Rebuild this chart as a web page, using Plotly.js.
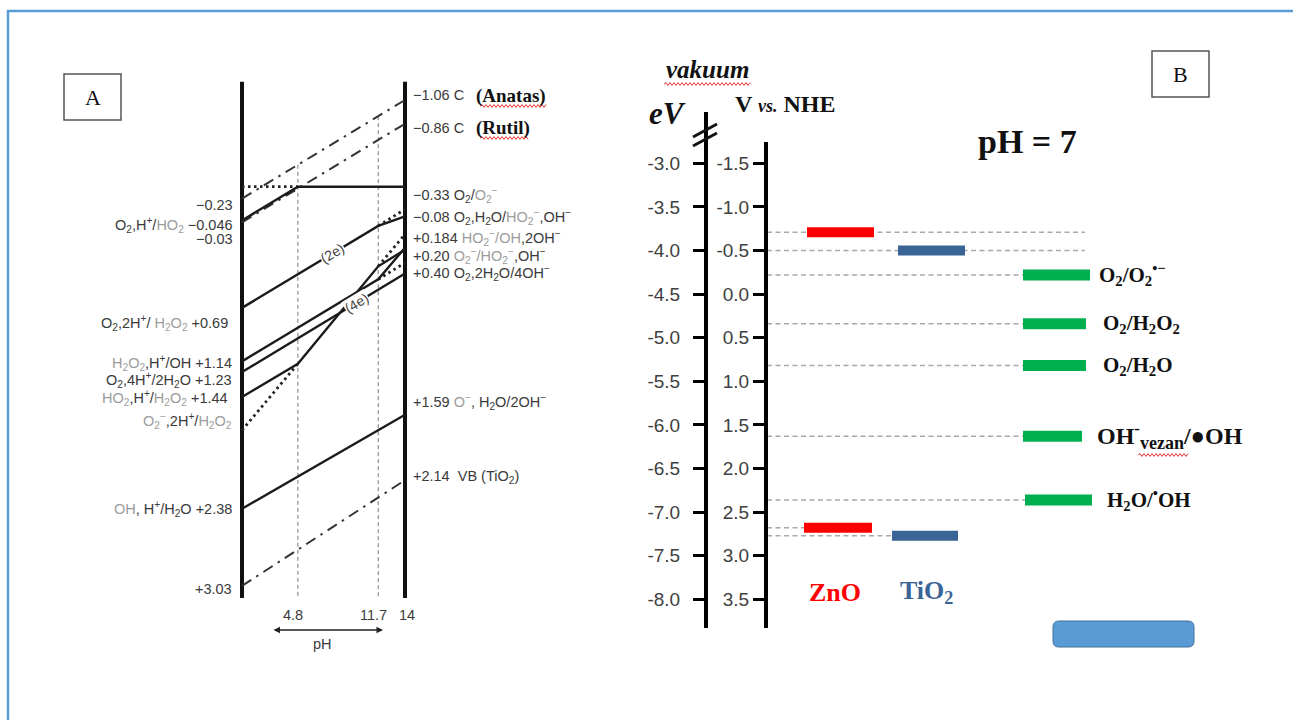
<!DOCTYPE html>
<html><head><meta charset="utf-8">
<script src="https://cdn.plot.ly/plotly-3.0.1.min.js"></script>
<style>html,body{margin:0;padding:0;background:#fff}#chart{width:1293px;height:720px}</style>
</head><body><div id="chart"></div>
<script>
const W = 1293, H = 720;
const PX = x => x / W, PY = y => 1 - y / H;

// ================= DATA =================
// Panel A: redox potentials (V vs NHE) against pH
const phAnatas = [0, 14],          eAnatas = [-0.23, -1.06];      // CB anatase (dash-dot)
const phRutil = [0, 14],           eRutil = [-0.03, -0.86];       // CB rutile (dash-dot)
const phVB = [0, 14],              eVB = [3.03, 2.14];            // VB TiO2 (dash-dot)
const phSuperox = [0, 4.8, 14],    eSuperox = [-0.046, -0.33, -0.33];
const phSuperoxDot = [0, 4.8],     eSuperoxDot = [-0.33, -0.33];
const ph2e = [0, 11.7, 14],        e2e = [0.69, 0.0, -0.08];
const ph2eDot = [11.7, 14],        e2eDot = [0.0, -0.14];
const phH2O2 = [0, 11.7, 14],      eH2O2 = [1.14, 0.45, 0.184];
const phH2O2Dot = [11.7, 14],      eH2O2Dot = [0.45, 0.31];
const ph4e = [0, 14],              e4e = [1.23, 0.40];
const phHO2 = [0, 4.8, 11.7, 14],  eHO2 = [1.44, 1.16, 0.34, 0.20];
const phHO2Dot = [0, 4.8],         eHO2Dot = [1.72, 1.16];
const phHO2Dot2 = [11.7, 14],      eHO2Dot2 = [0.34, 0.07];
const phOH = [0, 14],              eOH = [2.38, 1.59];
const pHmarks = [4.8, 11.7];
const pHtickText = ['4.8', '11.7', '14'];
const pHtickVals = [4.8, 11.7, 14];

const G = s => `<span style="color:#9c9c9c">${s}</span>`;
const leftLabels = [
  '−0.23',
  'O<sub>2</sub>,H<sup>+</sup>/' + G('HO<sub>2</sub>') + ' −0.046',
  '−0.03',
  'O<sub>2</sub>,2H<sup>+</sup>/ ' + G('H<sub>2</sub>O<sub>2</sub>') + ' +0.69',
  G('H<sub>2</sub>O<sub>2</sub>') + ',H<sup>+</sup>/OH +1.14',
  'O<sub>2</sub>,4H<sup>+</sup>/2H<sub>2</sub>O +1.23',
  G('HO<sub>2</sub>') + ',H<sup>+</sup>/' + G('H<sub>2</sub>O<sub>2</sub>') + ' +1.44',
  G('O<sub>2</sub><sup>−</sup>') + ',2H<sup>+</sup>/' + G('H<sub>2</sub>O<sub>2</sub>'),
  G('OH') + ', H<sup>+</sup>/H<sub>2</sub>O +2.38',
  '+3.03'
];
const rightLabels = [
  '−1.06 C',
  '−0.86 C',
  '−0.33 O<sub>2</sub>/' + G('O<sub>2</sub><sup>−</sup>'),
  '−0.08 O<sub>2</sub>,H<sub>2</sub>O/' + G('HO<sub>2</sub><sup>−</sup>') + ',OH<sup>−</sup>',
  '+0.184 ' + G('HO<sub>2</sub><sup>−</sup>/OH') + ',2OH<sup>−</sup>',
  '+0.20 ' + G('O<sub>2</sub><sup>−</sup>/HO<sub>2</sub><sup>−</sup>') + ',OH<sup>−</sup>',
  '+0.40 O<sub>2</sub>,2H<sub>2</sub>O/4OH<sup>−</sup>',
  '+1.59 ' + G('O<sup>−</sup>') + ', H<sub>2</sub>O/2OH<sup>−</sup>',
  '+2.14  VB (TiO<sub>2</sub>)'
];
const phaseLabels = ['(Anatas)', '(Rutil)'];

// Panel B: band edges and redox levels at pH 7 (V vs NHE)
const semiNames = ['ZnO', 'TiO<sub>2</sub>'];
const semiCB = [-0.71, -0.50];
const semiVB = [2.68, 2.77];
const redoxNames = ['O<sub>2</sub>/O<sub>2</sub><sup>•−</sup>', 'O<sub>2</sub>/H<sub>2</sub>O<sub>2</sub>', 'O<sub>2</sub>/H<sub>2</sub>O',
  'OH<sup>-</sup><sub><span style="font-size:18px">vezan</span></sub>/●OH', 'H<sub>2</sub>O/<sup>•</sup>OH'];
const redoxV = [-0.22, 0.34, 0.82, 1.63, 2.36];
const nheTicks = [-1.5, -1.0, -0.5, 0.0, 0.5, 1.0, 1.5, 2.0, 2.5, 3.0, 3.5];
const nheTickText = ['-1.5', '-1.0', '-0.5', '0.0', '0.5', '1.0', '1.5', '2.0', '2.5', '3.0', '3.5'];
const evTicks = [-3.0, -3.5, -4.0, -4.5, -5.0, -5.5, -6.0, -6.5, -7.0, -7.5, -8.0];
const evTickText = ['-3.0', '-3.5', '-4.0', '-4.5', '-5.0', '-5.5', '-6.0', '-6.5', '-7.0', '-7.5', '-8.0'];

// ================= LAYOUT CONSTANTS =================
const A_PH0 = 242, A_PH14 = 405;              // px of pH 0 / 14
const A_PXPH = (A_PH14 - A_PH0) / 14;
const A_Y0 = 100, A_PXV = 118.8;              // px of -1.06 V, px per V
const A_TOP_V = -1.214, A_BOT_V = 3.132;      // extent of the schematic axes
const aYrange = [-1.06 + (H - A_Y0) / A_PXV, -1.06 - A_Y0 / A_PXV];
const leftLabelPos = [[235,205],[235,225],[235,239],[230,323],[234,363],[234,380],[230,398],[234,421],[234,509],[234,589]];
const rightLabelPos = [[411,95],[411,128],[411,195],[411,217],[411,238],[411,256],[411,273],[411,402],[411,477]];
const phaseLabelPos = [[474,96],[474,128]];

const B_TOP = 142, B_BOT = 628, B_PXV = 87.2, B_V0Y = 163.3; // -1.5 V at 163.3 px
const bYrange = [-1.5 + (B_BOT - B_V0Y) / B_PXV, -1.5 - (B_V0Y - B_TOP) / B_PXV];
const EV_TOP = 112;
const evRange = [-4.5 - bYrange[0], -4.5 - (-1.5 - (B_V0Y - EV_TOP) / B_PXV)];
const AX_V = 765, AX_EV = 705;
const semiCBx = [[807, 874], [898, 965]];
const semiVBx = [[804, 872], [892, 958]];
const redoxX = [[1023, 1090], [1023, 1086], [1023, 1086], [1023, 1082], [1025, 1092]];
const redoxLabelX = [1097, 1101, 1101, 1095, 1105];
const redoxLabelSize = [21, 21, 21, 24, 21];
const semiLabelX = [835, 926];
const semiLabelV = 3.42;

// ================= TRACES =================
const traces = [];
const SOLID = {color: '#1b1b1b', width: 2.4};
const DOT = {color: '#222', width: 2.8, dash: '2.5px,3.5px'};
const DASHDOT = {color: '#333', width: 2, dash: '11px,6px,2.5px,6px'};
function addA(xs, ys, line) {
  traces.push({type: 'scatter', mode: 'lines', x: xs, y: ys, xaxis: 'x', yaxis: 'y',
    line: line, hoverinfo: 'skip', showlegend: false});
}
function interp(xs, ys, x) {
  for (let i = 0; i < xs.length - 1; i++) {
    if (x >= xs[i] && x <= xs[i + 1]) return ys[i] + (ys[i + 1] - ys[i]) * (x - xs[i]) / (xs[i + 1] - xs[i]);
  }
  return ys[ys.length - 1];
}
pHmarks.forEach(p => addA([p, p], [interp(phAnatas, eAnatas, p), A_BOT_V], {color: '#777', width: 1, dash: '4px,3px'}));
addA([0, 0], [A_TOP_V, A_BOT_V], {color: '#111', width: 4});
addA([14, 14], [A_TOP_V, A_BOT_V], {color: '#111', width: 4});
addA(phAnatas, eAnatas, DASHDOT);
addA(phRutil, eRutil, DASHDOT);
addA(phVB, eVB, DASHDOT);
addA(phSuperoxDot, eSuperoxDot, DOT);
addA(ph2eDot, e2eDot, DOT);
addA(phH2O2Dot, eH2O2Dot, DOT);
addA(phHO2Dot, eHO2Dot, DOT);
addA(phHO2Dot2, eHO2Dot2, DOT);
addA(phSuperox, eSuperox, SOLID);
addA(ph2e, e2e, SOLID);
addA(phH2O2, eH2O2, SOLID);
addA(ph4e, e4e, SOLID);
addA(phHO2, eHO2, SOLID);
addA(phOH, eOH, SOLID);

function addB(xs, ys, line) {
  traces.push({type: 'scatter', mode: 'lines', x: xs, y: ys, xaxis: 'x2', yaxis: 'y2',
    line: line, hoverinfo: 'skip', showlegend: false});
}
const GUIDE = {color: '#a9a9a9', width: 1.5, dash: '5px,3.5px'};
semiCB.forEach(v => addB([AX_V + 2, 1085], [v, v], GUIDE));
semiVB.forEach((v, i) => addB([AX_V + 2, semiVBx[i][0]], [v, v], GUIDE));
redoxV.forEach((v, i) => addB([AX_V + 2, redoxX[i][0]], [v, v], GUIDE));
const semiColors = ['#ff0000', '#3b6496'];
semiCB.forEach((v, i) => addB(semiCBx[i], [v, v], {color: semiColors[i], width: 10}));
semiVB.forEach((v, i) => addB(semiVBx[i], [v, v], {color: semiColors[i], width: 10}));
redoxV.forEach((v, i) => addB(redoxX[i], [v, v], {color: '#00b050', width: 11}));
traces.push({type: 'scatter', mode: 'markers', x: [AX_EV], y: [-5], xaxis: 'x3', yaxis: 'y3',
  marker: {opacity: 0}, hoverinfo: 'skip', showlegend: false});

// ================= ANNOTATIONS =================
const SANS = 'Arial, Liberation Sans, sans-serif';
const SERIF = 'Liberation Serif, Times New Roman, serif';
const ann = [];
function note(o) { ann.push(Object.assign({xref: 'paper', yref: 'paper', xanchor: 'center', yanchor: 'middle', showarrow: false}, o)); }
const aFont = {family: SANS, size: 14.5, color: '#3a3a3a'};
leftLabels.forEach((t, i) => note({text: t, x: PX(leftLabelPos[i][0]), y: PY(leftLabelPos[i][1]), xanchor: 'right', font: aFont}));
rightLabels.forEach((t, i) => note({text: t, x: PX(rightLabelPos[i][0]), y: PY(rightLabelPos[i][1]), xanchor: 'left', font: aFont}));
phaseLabels.forEach((t, i) => note({text: '<b>' + t + '</b>', x: PX(phaseLabelPos[i][0]), y: PY(phaseLabelPos[i][1]),
  xanchor: 'left', font: {family: SERIF, size: 19, color: '#111'}}));
const tilt = -Math.atan(0.0593 * A_PXV / A_PXPH) * 180 / Math.PI;
[[ph2e, e2e, 7.8, '(2e)'], [ph4e, e4e, 9.85, '(4e)']].forEach(([xs, ys, p, t]) => note({
  text: t, x: p, y: interp(xs, ys, p), xref: 'x', yref: 'y', textangle: tilt,
  bgcolor: '#fff', borderpad: 0, font: {family: SANS, size: 14, color: '#444'}}));
pHtickVals.forEach((p, i) => note({text: pHtickText[i], x: p, y: PY(615), xref: 'x', xshift: i < 2 ? -5 : 2, font: aFont}));
note({text: 'pH', x: PX(322), y: PY(644), font: aFont});
ann.push({text: '', x: PX(383), y: PY(630), ax: -111, ay: 0, xref: 'paper', yref: 'paper',
  showarrow: true, arrowhead: 2, arrowside: 'end+start', arrowsize: 1, arrowwidth: 1.3, arrowcolor: '#222', standoff: 0, startstandoff: 0});
note({text: 'A', x: PX(92.5), y: PY(98), font: {family: SERIF, size: 22, color: '#111'}});
note({text: 'B', x: PX(1180.5), y: PY(75), font: {family: SERIF, size: 22, color: '#111'}});
note({text: '<b><i>vakuum</i></b>', x: PX(707), y: PY(70), font: {family: SERIF, size: 25, color: '#111'}});
note({text: '<b><i>eV</i></b>', x: PX(667), y: PY(113), font: {family: SERIF, size: 31, color: '#111'}});
note({text: '<b>V <i><span style="font-size:18px">vs.</span></i> NHE</b>', x: PX(785), y: PY(104), font: {family: SERIF, size: 24, color: '#111'}});
note({text: '<b>pH = 7</b>', x: PX(1027), y: PY(142), font: {family: SERIF, size: 34, color: '#111'}});
semiNames.forEach((t, i) => note({text: '<b>' + t + '</b>', x: semiLabelX[i], y: semiLabelV, xref: 'x2', yref: 'y2',
  font: {family: SERIF, size: 26, color: semiColors[i]}}));
redoxNames.forEach((t, i) => note({text: '<b>' + t + '</b>', x: redoxLabelX[i], y: redoxV[i], xref: 'x2', yref: 'y2',
  xanchor: 'left', font: {family: SERIF, size: redoxLabelSize[i], color: '#111'}}));

// ================= SHAPES =================
function wavy(x0, x1, y) {
  let d = `M${PX(x0)},${PY(y)}`; let up = true;
  for (let x = x0 + 2; x <= x1; x += 2) { d += ` L${PX(x)},${PY(y + (up ? -1.4 : 1.4))}`; up = !up; }
  return {type: 'path', xref: 'paper', yref: 'paper', path: d, line: {color: '#e03030', width: 1}};
}
function rrect(x0, y0, x1, y1, r) {
  const p = (x, y) => `${PX(x)},${PY(y)}`;
  return `M${p(x0 + r, y0)} L${p(x1 - r, y0)} Q${p(x1, y0)} ${p(x1, y0 + r)} L${p(x1, y1 - r)} Q${p(x1, y1)} ${p(x1 - r, y1)} L${p(x0 + r, y1)} Q${p(x0, y1)} ${p(x0, y1 - r)} L${p(x0, y0 + r)} Q${p(x0, y0)} ${p(x0 + r, y0)} Z`;
}
const shapes = [
  {type: 'rect', xref: 'paper', yref: 'paper', x0: PX(8), x1: 1.05, y0: -0.05, y1: PY(11), line: {color: '#5b9bd5', width: 2.5}},
  {type: 'rect', xref: 'paper', yref: 'paper', x0: PX(64), x1: PX(121), y0: PY(120), y1: PY(74), line: {color: '#555', width: 1.5}},
  {type: 'rect', xref: 'paper', yref: 'paper', x0: PX(1152), x1: PX(1209), y0: PY(97), y1: PY(51), line: {color: '#555', width: 1.5}},
  {type: 'path', xref: 'paper', yref: 'paper', path: rrect(1053, 621, 1194, 647, 6), fillcolor: '#5b9bd5', line: {color: '#41719c', width: 1}},
  {type: 'line', xref: 'paper', yref: 'paper', x0: PX(693), y0: PY(137), x1: PX(717), y1: PY(124), line: {color: '#111', width: 3}},
  {type: 'line', xref: 'paper', yref: 'paper', x0: PX(693), y0: PY(146), x1: PX(717), y1: PY(133), line: {color: '#111', width: 3}},
  wavy(664, 750, 84), wavy(480, 546, 106), wavy(480, 529, 138), wavy(1138, 1188, 455)
];

const axB = {showline: true, linecolor: '#000', linewidth: 3.5, ticks: 'outside', ticklen: 11, tickwidth: 3, tickcolor: '#000',
  showgrid: false, zeroline: false, tickmode: 'array', tickfont: {family: SANS, size: 19, color: '#404040'}, fixedrange: true};
const layout = {
  width: W, height: H, margin: {l: 0, r: 0, t: 0, b: 0, pad: 0},
  paper_bgcolor: '#fff', plot_bgcolor: 'rgba(0,0,0,0)', showlegend: false,
  xaxis: {domain: [PX(A_PH0 - 2 * A_PXPH), PX(A_PH14 + 2 * A_PXPH)], range: [-2, 16], visible: false, fixedrange: true},
  yaxis: {domain: [0, 1], range: aYrange, visible: false, fixedrange: true},
  xaxis2: {domain: [0, 1], range: [0, W], visible: false, anchor: 'y2', fixedrange: true},
  yaxis2: Object.assign({}, axB, {domain: [PY(B_BOT), PY(B_TOP)], range: bYrange, anchor: 'free', position: PX(AX_V),
    tickvals: nheTicks, ticktext: nheTickText}),
  xaxis3: {domain: [0, 1], range: [0, W], visible: false, anchor: 'y3', fixedrange: true},
  yaxis3: Object.assign({}, axB, {domain: [PY(B_BOT), PY(EV_TOP)], range: evRange, anchor: 'free', position: PX(AX_EV),
    tickvals: evTicks, ticktext: evTickText, ticklabelstandoff: 9}),
  annotations: ann, shapes: shapes
};
Plotly.newPlot('chart', traces, layout, {displayModeBar: false, staticPlot: true});
</script></body></html>
